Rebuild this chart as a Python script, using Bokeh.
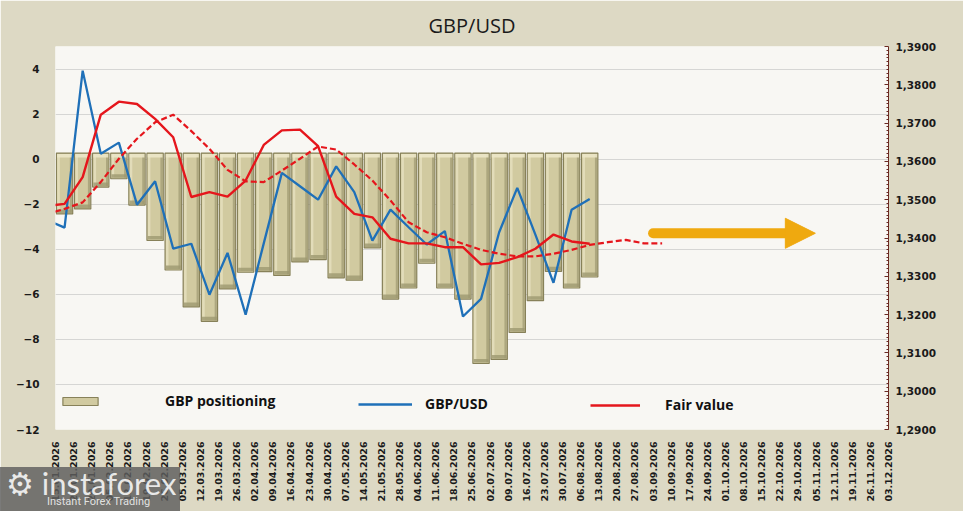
from bokeh.plotting import figure
from bokeh.models import (Range1d, LinearAxis, FixedTicker, Legend, LegendItem, Arrow,
                          NormalHead, CustomJSTickFormatter, InlineStyleSheet)
from bokeh.embed import file_html
from bokeh.resources import INLINE

# ---------------- data ----------------
dates = ["15.01.2026", "22.01.2026", "29.01.2026", "05.02.2026", "12.02.2026", "19.02.2026",
         "26.02.2026", "05.03.2026", "12.03.2026", "19.03.2026", "26.03.2026", "02.04.2026",
         "09.04.2026", "16.04.2026", "23.04.2026", "30.04.2026", "07.05.2026", "14.05.2026",
         "21.05.2026", "28.05.2026", "04.06.2026", "11.06.2026", "18.06.2026", "25.06.2026",
         "02.07.2026", "09.07.2026", "16.07.2026", "23.07.2026", "30.07.2026", "06.08.2026",
         "13.08.2026", "20.08.2026", "27.08.2026", "03.09.2026", "10.09.2026", "17.09.2026",
         "24.09.2026", "01.10.2026", "08.10.2026", "15.10.2026", "22.10.2026", "29.10.2026",
         "05.11.2026", "12.11.2026", "19.11.2026", "26.11.2026", "03.12.2026"]

# GBP net positioning (left axis), weeks 15.01 .. 06.08
positioning = [-2.43, -2.21, -1.24, -0.87, -2.04, -3.61, -4.92, -6.56, -7.20, -5.76,
               -5.02, -4.99, -5.16, -4.56, -4.46, -5.27, -5.37, -3.94, -6.21, -5.72,
               -4.62, -5.72, -6.21, -9.07, -8.89, -7.69, -6.28, -4.98, -5.72, -5.23]

# GBP/USD (right axis), week before 15.01 .. 06.08
gbpusd = [1.3448, 1.3427, 1.3837, 1.3620, 1.3649, 1.3487, 1.3548, 1.3372, 1.3385, 1.3252,
          1.3361, 1.3200, 1.3386, 1.3570, 1.3535, 1.3500, 1.3587, 1.3520, 1.3393, 1.3474,
          1.3428, 1.3383, 1.3418, 1.3195, 1.3241, 1.3415, 1.3531, 1.3409, 1.3283, 1.3474,
          1.3502]

# Fair value (right axis), week before 15.01 .. 06.08
fair_value = [1.3484, 1.3489, 1.3559, 1.3722, 1.3756, 1.3750, 1.3711, 1.3663, 1.3507, 1.3520,
              1.3508, 1.3550, 1.3643, 1.3681, 1.3683, 1.3640, 1.3508, 1.3463, 1.3454, 1.3398,
              1.3386, 1.3386, 1.3376, 1.3376, 1.3331, 1.3335, 1.3350, 1.3372, 1.3409, 1.3391,
              1.3385]

# Fair value trend (dashed), week before 15.01 .. 03.09
fair_trend = [1.3462, 1.3476, 1.3493, 1.3546, 1.3607, 1.3659, 1.3702, 1.3722, 1.3679, 1.3633,
              1.3578, 1.3548, 1.3546, 1.3576, 1.3607, 1.3639, 1.3631, 1.3592, 1.3550, 1.3498,
              1.3441, 1.3415, 1.3402, 1.3385, 1.3369, 1.3359, 1.3352, 1.3352, 1.3359, 1.3369,
              1.3382, 1.3389, 1.3395, 1.3386, 1.3386]

left_ticks = [-12, -10, -8, -6, -4, -2, 0, 2, 4]
right_ticks = [1.29, 1.30, 1.31, 1.32, 1.33, 1.34, 1.35, 1.36, 1.37, 1.38, 1.39]

# ---------------- styling ----------------
BG_OUT = "#DDD9C4"
BG_IN = "#F8F7F3"
BAR_FILL = "#D1CAA0"
BAR_LIGHT = "#E2DCB9"
BAR_DARK = "#9E9870"
BAR_LINE = "#878159"
BLUE = "#1F70B8"
RED = "#E5161C"
GOLD = "#EFA90F"
BAR_TOP = 0.27
AXIS_FONT = "DejaVu Sans"

x_bar = list(range(len(positioning)))
x_line = list(range(-1, len(gbpusd) - 1))
x_trend = list(range(-1, len(fair_trend) - 1))

watermark_css = """
:host::before {
  content: "\\2699\\00a0instaforex";
  position: absolute; left: 0px; top: 467px; width: 180px; height: 44px;
  box-sizing: border-box; padding-left: 6px; padding-top: 0px;
  background: rgba(94, 94, 94, 0.82);
  color: rgba(255, 255, 255, 0.85);
  font-family: Lato, "DejaVu Sans", sans-serif; font-size: 31px; line-height: 32px;
  white-space: nowrap; overflow: hidden;
  z-index: 20; pointer-events: none;
}
:host::after {
  content: "Instant Forex Trading";
  position: absolute; left: 47px; top: 496px;
  color: rgba(255, 255, 255, 0.8);
  font-family: Roboto, sans-serif; font-size: 11px; line-height: 12px;
  z-index: 21; pointer-events: none;
}
"""

p = figure(width=963, height=511, output_backend="svg", toolbar_location=None,
           x_range=Range1d(-0.5, len(dates) - 1.5 + 0.0001), y_range=Range1d(-12, 5),
           min_border_left=55, min_border_right=75, min_border_top=46, min_border_bottom=82,
           background_fill_color=BG_IN, border_fill_color=BG_OUT, outline_line_color=None,
           stylesheets=[InlineStyleSheet(css=watermark_css)])
p.extra_y_ranges = {"px": Range1d(1.29, 1.39)}

p.title.text = "GBP/USD"
p.title.align = "center"
p.title.text_font = "Open Sans"
p.title.text_font_size = "20px"
p.title.text_font_style = "normal"
p.title.text_color = "#1a1a1a"
p.title.standoff = 16

# left axis
ly = p.yaxis[0]
ly.ticker = FixedTicker(ticks=left_ticks)
ly.axis_line_color = None
ly.major_tick_line_color = None
ly.minor_tick_line_color = None
ly.major_label_standoff = 10
ly.major_label_text_font = AXIS_FONT
ly.major_label_text_font_style = "bold"
ly.major_label_text_font_size = "10.5px"
ly.major_label_text_color = "#1a1a1a"
p.ygrid.grid_line_color = "#D6D6D4"
p.ygrid.grid_line_width = 1
p.xgrid.grid_line_color = None

# right axis
ry = LinearAxis(y_range_name="px",
                ticker=FixedTicker(ticks=right_ticks,
                                   minor_ticks=[1.29 + 0.001 * k for k in range(101)]),
                formatter=CustomJSTickFormatter(code="return tick.toFixed(4).replace('.', ',');"))
ry.axis_line_color = "#6B2A22"
ry.major_tick_line_color = "#6B2A22"
ry.minor_tick_line_color = "#6B2A22"
ry.major_tick_in = 4
ry.major_tick_out = 0
ry.minor_tick_in = 2
ry.minor_tick_out = 0
ry.major_label_standoff = 7
ry.major_label_text_font = AXIS_FONT
ry.major_label_text_font_style = "bold"
ry.major_label_text_font_size = "10.5px"
ry.major_label_text_color = "#1a1a1a"
p.add_layout(ry, "right")

# bottom axis (date labels at week boundaries)
bx = p.xaxis[0]
bx.ticker = FixedTicker(ticks=[i - 0.5 for i in range(len(dates))])
bx.formatter = CustomJSTickFormatter(args=dict(labels=dates),
                                     code="return labels[Math.round(tick + 0.5)];")
bx.major_label_orientation = 3.14159265 / 2
bx.axis_line_color = None
bx.major_tick_line_color = None
bx.minor_tick_line_color = None
bx.major_label_standoff = 6
bx.major_label_text_font = AXIS_FONT
bx.major_label_text_font_style = "bold"
bx.major_label_text_font_size = "9.5px"
bx.major_label_text_color = "#1a1a1a"

# bars (with a simple bevel look)
bars = p.vbar(x=x_bar, top=BAR_TOP, bottom=positioning, width=0.9,
              fill_color=BAR_FILL, line_color=BAR_LINE, line_width=1.2)
p.vbar(x=[x - 0.33 for x in x_bar], top=BAR_TOP - 0.05, bottom=[v + 0.05 for v in positioning],
       width=0.14, fill_color=BAR_LIGHT, line_color=None)
p.vbar(x=[x + 0.35 for x in x_bar], top=BAR_TOP - 0.05, bottom=[v + 0.05 for v in positioning],
       width=0.12, fill_color=BAR_DARK, fill_alpha=0.7, line_color=None)
p.vbar(x=x_bar, top=[v + 0.2 for v in positioning], bottom=[v + 0.04 for v in positioning],
       width=0.82, fill_color=BAR_DARK, fill_alpha=0.8, line_color=None)
p.vbar(x=x_bar, top=BAR_TOP - 0.04, bottom=BAR_TOP - 0.2,
       width=0.82, fill_color="#ECE7C8", fill_alpha=0.9, line_color=None)

# lines
l_blue = p.line(x_line, gbpusd, y_range_name="px", line_color=BLUE, line_width=2.3)
l_trend = p.line(x_trend, fair_trend, y_range_name="px", line_color=RED, line_width=2.2,
                 line_dash="6 3")
l_red = p.line(x_line, fair_value, y_range_name="px", line_color=RED, line_width=2.4)

# arrow annotation: rounded shaft + separate head
p.add_layout(Arrow(x_start=32.5, y_start=-3.29, x_end=40.3, y_end=-3.29, end=None,
                   line_color=GOLD, line_width=10, line_cap="round"))
p.add_layout(Arrow(x_start=39.6, y_start=-3.29, x_end=41.46, y_end=-3.29,
                   line_alpha=0, line_width=1,
                   end=NormalHead(size=30, fill_color=GOLD, line_color=GOLD, line_width=1)))

# legends
def mk_legend(label, rend, loc, gw, standoff):
    return Legend(items=[LegendItem(label=label, renderers=[rend])], location=loc,
                  orientation="horizontal", glyph_width=gw, glyph_height=10, label_height=10,
                  label_standoff=standoff, padding=0, margin=0, border_line_alpha=0,
                  background_fill_alpha=0, label_text_font="Open Sans",
                  label_text_font_style="bold", label_text_font_size="14px",
                  label_text_color="#111111")

p.add_layout(mk_legend("GBP positioning", bars, (3, 19), 44, 63))
p.add_layout(mk_legend("GBP/USD", l_blue, (303, 16), 54, 13))
p.add_layout(mk_legend("Fair value", l_red, (535, 15), 50, 25))

open("out.html", "w").write(file_html(p, INLINE))
